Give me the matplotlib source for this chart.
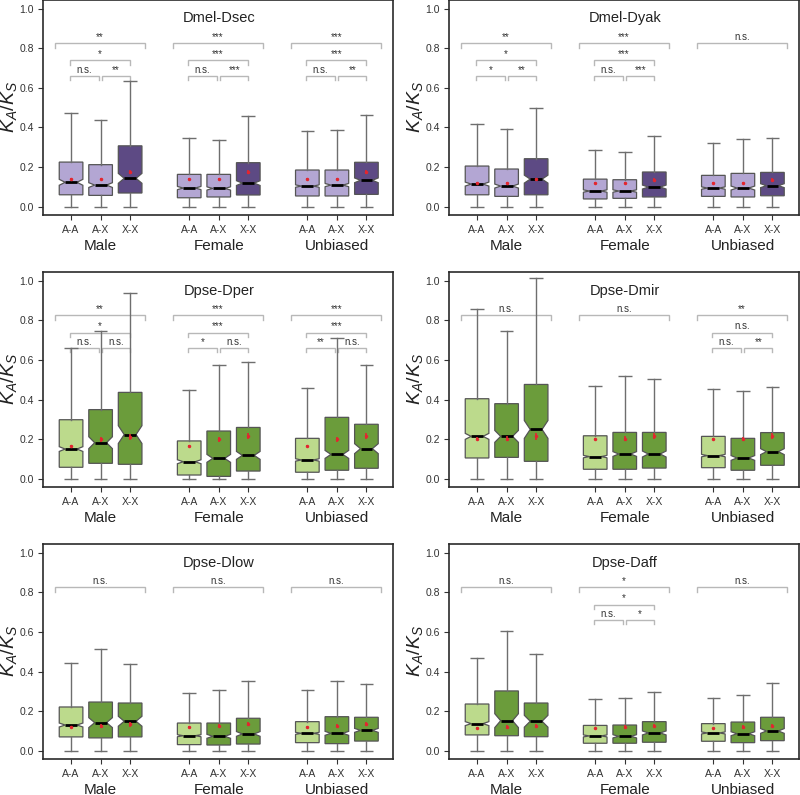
import matplotlib
matplotlib.use('Agg')
import matplotlib.pyplot as plt
import numpy as np
from matplotlib.transforms import blended_transform_factory

plt.rcParams['font.family'] = ['Liberation Sans', 'DejaVu Sans']
plt.rcParams['mathtext.fontset'] = 'custom'
plt.rcParams['mathtext.it'] = 'Liberation Sans:italic'
plt.rcParams['mathtext.rm'] = 'Liberation Sans'

panel_titles = ["Dmel-Dsec", "Dmel-Dyak", "Dpse-Dper", "Dpse-Dmir", "Dpse-Dlow", "Dpse-Daff"]
groups = ["Male", "Female", "Unbiased"]
classes = ["A-A", "A-X", "X-X"]

# per panel: 9 boxes in order Male(A-A,A-X,X-X), Female(...), Unbiased(...)
q1_vals = [
    [0.060, 0.057, 0.069, 0.045, 0.049, 0.059, 0.054, 0.054, 0.062],
    [0.060, 0.052, 0.060, 0.039, 0.042, 0.049, 0.052, 0.049, 0.055],
    [0.059, 0.079, 0.074, 0.020, 0.013, 0.040, 0.034, 0.044, 0.054],
    [0.106, 0.109, 0.089, 0.049, 0.049, 0.055, 0.057, 0.044, 0.069],
    [0.071, 0.066, 0.071, 0.032, 0.030, 0.035, 0.042, 0.037, 0.050],
    [0.081, 0.077, 0.072, 0.039, 0.039, 0.044, 0.049, 0.042, 0.052],
]
med_vals = [
    [0.123, 0.109, 0.143, 0.094, 0.092, 0.119, 0.104, 0.109, 0.133],
    [0.114, 0.104, 0.139, 0.079, 0.079, 0.099, 0.094, 0.094, 0.106],
    [0.151, 0.183, 0.224, 0.087, 0.104, 0.119, 0.096, 0.124, 0.153],
    [0.215, 0.215, 0.250, 0.113, 0.126, 0.126, 0.118, 0.106, 0.138],
    [0.131, 0.143, 0.150, 0.077, 0.074, 0.086, 0.089, 0.089, 0.104],
    [0.138, 0.153, 0.150, 0.076, 0.074, 0.091, 0.091, 0.087, 0.101],
]
q3_vals = [
    [0.225, 0.212, 0.307, 0.163, 0.163, 0.222, 0.185, 0.185, 0.224],
    [0.205, 0.190, 0.242, 0.139, 0.136, 0.175, 0.158, 0.168, 0.173],
    [0.299, 0.350, 0.437, 0.192, 0.242, 0.260, 0.205, 0.311, 0.276],
    [0.405, 0.380, 0.477, 0.218, 0.235, 0.235, 0.215, 0.205, 0.234],
    [0.222, 0.247, 0.242, 0.141, 0.141, 0.165, 0.148, 0.173, 0.170],
    [0.237, 0.303, 0.242, 0.129, 0.131, 0.148, 0.138, 0.146, 0.170],
]
whishi_vals = [
    [0.472, 0.439, 0.634, 0.345, 0.334, 0.459, 0.380, 0.385, 0.462],
    [0.417, 0.390, 0.496, 0.284, 0.274, 0.358, 0.319, 0.341, 0.345],
    [0.659, 0.748, 0.941, 0.447, 0.573, 0.588, 0.460, 0.713, 0.576],
    [0.857, 0.745, 1.012, 0.469, 0.518, 0.503, 0.452, 0.444, 0.462],
    [0.444, 0.516, 0.439, 0.292, 0.308, 0.353, 0.306, 0.355, 0.336],
    [0.467, 0.605, 0.489, 0.264, 0.267, 0.299, 0.267, 0.282, 0.345],
]
whislo_vals = [
    [0.0] * 9, [0.0] * 9, [0.0] * 9, [0.0] * 9, [0.0] * 9, [0.0] * 9,
]
mean_vals = [
    [0.141, 0.141, 0.175, 0.141, 0.141, 0.175, 0.141, 0.141, 0.175],
    [0.119, 0.118, 0.139, 0.119, 0.118, 0.136, 0.119, 0.118, 0.136],
    [0.166, 0.200, 0.213, 0.166, 0.200, 0.215, 0.166, 0.200, 0.215],
    [0.203, 0.203, 0.215, 0.203, 0.203, 0.215, 0.203, 0.203, 0.215],
    [0.121, 0.128, 0.134, 0.121, 0.128, 0.134, 0.121, 0.128, 0.134],
    [0.114, 0.121, 0.128, 0.114, 0.121, 0.128, 0.114, 0.121, 0.128],
]
sem_vals = [
    [0.005, 0.006, 0.010, 0.004, 0.005, 0.009, 0.004, 0.005, 0.009],
    [0.004, 0.006, 0.008, 0.004, 0.005, 0.008, 0.004, 0.005, 0.008],
    [0.007, 0.013, 0.016, 0.006, 0.013, 0.015, 0.006, 0.013, 0.015],
    [0.007, 0.013, 0.018, 0.006, 0.013, 0.015, 0.006, 0.011, 0.015],
    [0.006, 0.010, 0.011, 0.005, 0.008, 0.010, 0.005, 0.009, 0.010],
    [0.005, 0.009, 0.010, 0.004, 0.008, 0.009, 0.004, 0.008, 0.009],
]
notch_vals = [
    [0.015, 0.012, 0.025, 0.008, 0.008, 0.012, 0.006, 0.008, 0.012],
    [0.010, 0.010, 0.020, 0.006, 0.006, 0.010, 0.006, 0.010, 0.010],
    [0.012, 0.030, 0.045, 0.010, 0.020, 0.020, 0.006, 0.020, 0.025],
    [0.015, 0.030, 0.045, 0.006, 0.012, 0.015, 0.006, 0.012, 0.015],
    [0.010, 0.025, 0.025, 0.005, 0.010, 0.012, 0.005, 0.010, 0.010],
    [0.010, 0.035, 0.030, 0.005, 0.008, 0.010, 0.005, 0.010, 0.012],
]
# significance: (group index, comparison, label)
sig_marks = [
    [(0, 'all', '**'), (0, 'AAXX', '*'), (0, 'AAAX', 'n.s.'), (0, 'AXXX', '**'),
     (1, 'all', '***'), (1, 'AAXX', '***'), (1, 'AAAX', 'n.s.'), (1, 'AXXX', '***'),
     (2, 'all', '***'), (2, 'AAXX', '***'), (2, 'AAAX', 'n.s.'), (2, 'AXXX', '**')],
    [(0, 'all', '**'), (0, 'AAXX', '*'), (0, 'AAAX', '*'), (0, 'AXXX', '**'),
     (1, 'all', '***'), (1, 'AAXX', '***'), (1, 'AAAX', 'n.s.'), (1, 'AXXX', '***'),
     (2, 'all', 'n.s.')],
    [(0, 'all', '**'), (0, 'AAXX', '*'), (0, 'AAAX', 'n.s.'), (0, 'AXXX', 'n.s.'),
     (1, 'all', '***'), (1, 'AAXX', '***'), (1, 'AAAX', '*'), (1, 'AXXX', 'n.s.'),
     (2, 'all', '***'), (2, 'AAXX', '***'), (2, 'AAAX', '**'), (2, 'AXXX', 'n.s.')],
    [(0, 'all', 'n.s.'), (1, 'all', 'n.s.'),
     (2, 'all', '**'), (2, 'AAXX', 'n.s.'), (2, 'AAAX', 'n.s.'), (2, 'AXXX', '**')],
    [(0, 'all', 'n.s.'), (1, 'all', 'n.s.'), (2, 'all', 'n.s.')],
    [(0, 'all', 'n.s.'),
     (1, 'all', '*'), (1, 'AAXX', '*'), (1, 'AAAX', 'n.s.'), (1, 'AXXX', '*'),
     (2, 'all', 'n.s.')],
]

light_purple = '#b3a6d3'
dark_purple = '#5d4a84'
light_green = '#bcda8c'
dark_green = '#6b9c3b'
panel_colors = [
    [light_purple, light_purple, dark_purple],
    [light_purple, light_purple, dark_purple],
    [light_green, dark_green, dark_green],
    [light_green, dark_green, dark_green],
    [light_green, dark_green, dark_green],
    [light_green, dark_green, dark_green],
]

positions = np.array([1, 2, 3, 5, 6, 7, 9, 10, 11], dtype=float)
group_centers = [2, 6, 10]

# bracket geometry: (x start offset, x end offset, bar y, tip y)
bracket_geom = {
    'all': (0.45, 3.5, 0.827, 0.800),
    'AAXX': (0.95, 3.0, 0.739, 0.714),
    'AAAX': (0.95, 1.95, 0.659, 0.639),
    'AXXX': (2.05, 3.0, 0.659, 0.639),
}

fig = plt.figure(figsize=(8.0, 7.95), dpi=100)
lefts = [43 / 800, 449 / 800]
width = 350 / 800
bottoms = [(795 - 214.6) / 795, (795 - 486.9) / 795, (795 - 758.9) / 795]
height = 215 / 795

edge = '#555555'
wcol = '#6e6e6e'
for k in range(6):
    r, c = divmod(k, 2)
    ax = fig.add_axes([lefts[c], bottoms[r], width, height])
    stats = []
    for i in range(9):
        stats.append(dict(med=med_vals[k][i], q1=q1_vals[k][i], q3=q3_vals[k][i],
                          whislo=whislo_vals[k][i], whishi=whishi_vals[k][i],
                          cilo=med_vals[k][i] - notch_vals[k][i],
                          cihi=med_vals[k][i] + notch_vals[k][i],
                          mean=mean_vals[k][i], fliers=[]))
    bp = ax.bxp(stats, positions=positions, widths=0.8, capwidths=0.6,
                shownotches=True, patch_artist=True, showcaps=False,
                showfliers=False, showmeans=False,
                boxprops=dict(edgecolor=edge, linewidth=0.9),
                whiskerprops=dict(color=wcol, linewidth=1.0),
                medianprops=dict(color='black', linewidth=2.0, solid_capstyle='butt'),
                zorder=3)
    for i, patch in enumerate(bp['boxes']):
        patch.set_facecolor(panel_colors[k][i % 3])
    ax.hlines(whishi_vals[k], positions - 0.23, positions + 0.23, colors=wcol,
              linewidth=1.0, zorder=3)
    ax.hlines(whislo_vals[k], positions - 0.23, positions + 0.23, colors=wcol,
              linewidth=1.0, zorder=3)
    ax.errorbar(positions, mean_vals[k], yerr=sem_vals[k], fmt='o', markersize=1.5,
                color='#e3262f', ecolor='#e3262f', elinewidth=1.2, capsize=0, zorder=5)

    for g, comp, lab in sig_marks[k]:
        x0o, x1o, yb, yt = bracket_geom[comp]
        base = positions[3 * g] - 1
        x0, x1 = base + x0o, base + x1o
        ax.plot([x0, x0, x1, x1], [yt, yb, yb, yt], color='#b8b8b8', linewidth=1.0,
                zorder=1, solid_joinstyle='miter')
        ax.text((x0 + x1) / 2, yb + 0.006, lab, ha='center', va='bottom',
                fontsize=7, color='#333333', zorder=2)

    ax.text(6.0, 0.95, panel_titles[k], ha='center', va='center', fontsize=10.5,
            color='#222222')
    ax.set_xlim(0.05, 11.9)
    ax.set_ylim(-0.04, 1.045)
    ax.set_yticks([0.0, 0.2, 0.4, 0.6, 0.8, 1.0])
    ax.set_yticklabels(['0.0', '0.2', '0.4', '0.6', '0.8', '1.0'])
    ax.set_xticks(positions)
    ax.set_xticklabels(classes * 3)
    ax.tick_params(axis='both', labelsize=7.5, colors='#333333', length=3.5, width=0.8)
    ax.tick_params(axis='x', pad=4)
    ax.tick_params(axis='y', pad=3)
    for sp in ax.spines.values():
        sp.set_linewidth(1.2)
        sp.set_color('#2a2a2a')
    trans = blended_transform_factory(ax.transData, ax.transAxes)
    for gx, gname in zip(group_centers, groups):
        ax.text(gx, -0.145, gname, transform=trans, ha='center', va='center',
                fontsize=11, color='#222222')
    ax.set_ylabel(r'$K_A/K_S$', fontsize=14, color='#222222')
    ax.yaxis.set_label_coords(-0.068, 0.5)

fig.savefig('out.png', dpi=100)
